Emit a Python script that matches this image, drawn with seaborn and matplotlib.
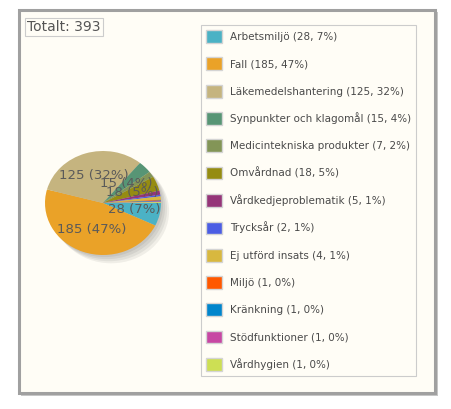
import matplotlib
matplotlib.use('Agg')
import matplotlib.pyplot as plt
import seaborn as sns
from matplotlib.patches import Patch, Rectangle, Circle

# data
categories = ['Arbetsmiljö', 'Fall', 'Läkemedelshantering', 'Synpunkter och klagomål',
              'Medicintekniska produkter', 'Omvårdnad', 'Vårdkedjeproblematik', 'Trycksår',
              'Ej utförd insats', 'Miljö', 'Kränkning', 'Stödfunktioner', 'Vårdhygien']
counts = [28, 185, 125, 15, 7, 18, 5, 2, 4, 1, 1, 1, 1]
colors = ['#4bb2c5', '#eaa228', '#c5b47f', '#579575', '#839557', '#958c12', '#953579',
          '#4b5de4', '#d8b83f', '#ff5800', '#0085cc', '#c747a3', '#cddf54']

total = sum(counts)
pcts = [round(100 * c / total) for c in counts]

sns.set_theme(style='white')
plt.rcParams['font.family'] = ['DejaVu Sans']

W, H = 452, 409
fig = plt.figure(figsize=(W / 100, H / 100), dpi=100)
fig.patch.set_facecolor('white')


def box(x0, y0, x1, y1):
    # pixel box (top-left origin) -> figure fraction rect
    return [x0 / W, 1 - y1 / H, (x1 - x0) / W, (y1 - y0) / H]


# outer frame with small shadow
for rect, fc, ec, lw in [(box(21, 12, 438, 396), '#c8c8c8', 'none', 0),
                         (box(19, 10, 435, 393), '#fffdf6', '#a0a0a0', 2.2)]:
    fig.patches.append(Rectangle((rect[0], rect[1]), rect[2], rect[3],
                                 transform=fig.transFigure, facecolor=fc,
                                 edgecolor=ec, linewidth=lw, zorder=-5))

# title
fig.text(27 / W, 1 - 27 / H, f'Totalt: {total}', fontsize=10, color='#555555',
         va='center', ha='left',
         bbox=dict(boxstyle='square,pad=0.15', facecolor='none', edgecolor='#cccccc', lw=0.8))

# pie (slightly squashed like the original)
rx, ry = 58, 52
ax = fig.add_axes(box(35, 141, 171, 265))
ax.set_zorder(2)
ax.patch.set_visible(False)
for k in range(1, 5):
    ax.add_patch(Circle((0.035 * k, -0.04 * k), 1, color='black', alpha=0.06, lw=0, zorder=0))
labels = [f'{c} ({p}%)' if p >= 3 else '' for c, p in zip(counts, pcts)]
wedges, texts = ax.pie(counts, colors=colors, startangle=0, counterclock=False,
                       labels=labels, labeldistance=0.55,
                       wedgeprops=dict(linewidth=0),
                       textprops=dict(fontsize=9.5, color='#5a5a5a'))
for t in texts:
    t.set_ha('center')
    t.set_va('center')
ax.set_aspect('auto')
ax.set_xlim(-68 / rx, 68 / rx)
ax.set_ylim(-62 / ry, 62 / ry)
ax.axis('off')

# legend
handles = [Patch(facecolor=c, edgecolor='#d4d4d4', linewidth=1) for c in colors]
leg_labels = [f'{n} ({c}, {p}%)' for n, c, p in zip(categories, counts, pcts)]
leg = fig.legend(handles, leg_labels, loc='upper left',
                 bbox_to_anchor=(201 / W, 1 - 25 / H), bbox_transform=fig.transFigure,
                 borderaxespad=0, frameon=True, fancybox=False, fontsize=7.5,
                 labelcolor='#4a4a4a', handlelength=1.5, handleheight=1.5,
                 handletextpad=0.75, labelspacing=1.4, borderpad=0.5)
frame = leg.get_frame()
frame.set_facecolor('#fffdf6')
frame.set_edgecolor('#cccccc')
frame.set_linewidth(0.8)
frame.set_alpha(1)

plt.savefig('out.png', dpi=100)
